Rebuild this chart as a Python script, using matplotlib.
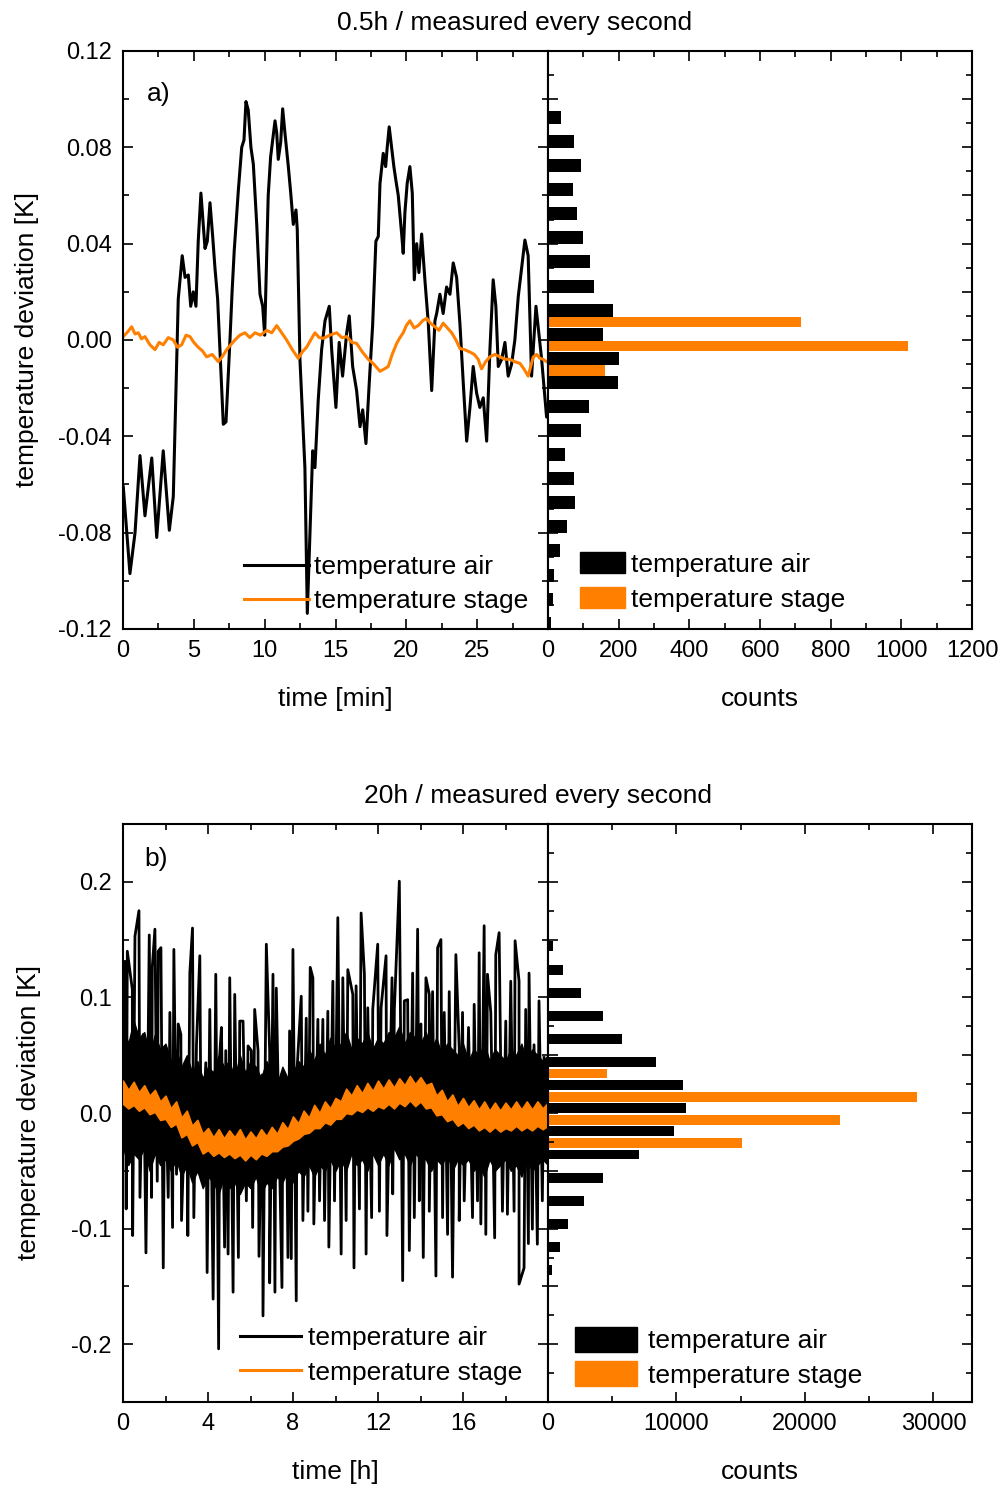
import numpy as np
import matplotlib
matplotlib.use("Agg")
import matplotlib.pyplot as plt
from matplotlib.ticker import MultipleLocator, FormatStrFormatter
from matplotlib.patches import Patch
from matplotlib.lines import Line2D

plt.rcParams['font.family'] = ['Liberation Sans', 'DejaVu Sans']
plt.rcParams['axes.unicode_minus'] = False

ORANGE = '#ff8000'

# ---- panel a: 0.5 h, time in minutes ----
air_a_t = [0.02, 0.49, 0.85, 1.20, 1.55, 2.03, 2.38, 2.84, 3.27, 3.55, 3.90, 4.18, 4.38,
           4.61, 4.78, 4.96, 5.15, 5.31, 5.50, 5.79, 5.95, 6.14, 6.33, 6.49, 6.68, 7.08,
           7.27, 7.55, 7.70, 7.85, 8.14, 8.38, 8.54, 8.68, 8.84, 9.03, 9.20, 9.44, 9.67,
           9.86, 10.0, 10.25, 10.42, 10.73, 10.85, 10.96, 11.13, 11.27, 11.43, 11.67,
           11.84, 12.02, 12.21, 12.30, 12.49, 12.84, 13.01, 13.20, 13.39, 13.55, 13.78,
           14.02, 14.26, 14.56, 14.73, 15.03, 15.26, 15.50, 15.79, 15.97, 16.21, 16.49,
           16.73, 16.92, 17.15, 17.38, 17.62, 17.85, 18.02, 18.14, 18.37, 18.54, 18.65,
           18.79, 18.96, 19.12, 19.27, 19.43, 19.67, 19.78, 19.90, 20.06, 20.25, 20.42,
           20.56, 20.73, 20.89, 21.08, 21.31, 21.55, 21.79, 22.02, 22.14, 22.37, 22.60,
           22.84, 23.08, 23.31, 23.55, 23.78, 24.02, 24.26, 24.49, 24.72, 24.96, 25.19,
           25.43, 25.67, 25.90, 26.13, 26.32, 26.49, 26.73, 26.96, 27.19, 27.43, 27.66,
           27.90, 28.14, 28.37, 28.60, 28.84, 29.15, 29.55, 29.90, 30.0]
air_a_v = [-0.061, -0.097, -0.080, -0.048, -0.073, -0.049, -0.082, -0.046, -0.079, -0.065,
           0.017, 0.035, 0.026, 0.027, 0.014, 0.020, 0.014, 0.041, 0.061, 0.038, 0.041,
           0.057, 0.043, 0.030, 0.017, -0.035, -0.034, 0.000, 0.020, 0.037, 0.062, 0.080,
           0.083, 0.099, 0.0955, 0.080, 0.073, 0.048, 0.019, 0.014, 0.002, 0.060, 0.076,
           0.091, 0.086, 0.075, 0.082, 0.096, 0.086, 0.072, 0.061, 0.048, 0.054, 0.046,
           -0.008, -0.053, -0.1135, -0.080, -0.046, -0.053, -0.025, -0.004, 0.008, 0.014,
           -0.004, -0.028, -0.001, -0.015, 0.003, 0.010, -0.011, -0.021, -0.036, -0.029,
           -0.043, -0.018, 0.006, 0.041, 0.043, 0.065, 0.0775, 0.072, 0.080, 0.0885,
           0.080, 0.072, 0.066, 0.060, 0.044, 0.036, 0.053, 0.065, 0.072, 0.061, 0.025,
           0.040, 0.028, 0.044, 0.025, 0.007, -0.021, 0.008, 0.011, 0.019, 0.011, 0.022,
           0.019, 0.032, 0.026, 0.007, -0.018, -0.042, -0.028, -0.011, -0.022, -0.028,
           -0.024, -0.042, -0.004, 0.025, 0.014, -0.011, -0.008, -0.001, -0.015, -0.010,
           0.000, 0.018, 0.030, 0.0415, 0.035, -0.015, 0.014, -0.008, -0.032, -0.029]

stage_a_t = [0.02, 0.35, 0.61, 0.85, 1.08, 1.30, 1.55, 1.90, 2.26, 2.55, 2.84, 3.20, 3.55,
             3.85, 4.14, 4.45, 4.73, 5.00, 5.31, 5.60, 5.91, 6.30, 6.73, 7.00, 7.32, 7.60,
             7.90, 8.25, 8.61, 8.95, 9.32, 9.70, 10.14, 10.50, 10.85, 11.20, 11.55, 11.95,
             12.37, 12.65, 12.96, 13.25, 13.55, 13.85, 14.14, 14.60, 15.08, 15.45, 15.79,
             16.15, 16.49, 16.90, 17.31, 17.70, 18.14, 18.45, 18.72, 19.00, 19.32, 19.55,
             19.78, 20.00, 20.25, 20.55, 20.84, 21.15, 21.43, 21.70, 22.02, 22.30, 22.60,
             22.90, 23.20, 23.50, 23.78, 24.10, 24.49, 24.80, 25.07, 25.31, 25.60, 25.90,
             26.25, 26.61, 26.95, 27.31, 27.65, 28.02, 28.30, 28.60, 28.96, 29.20, 29.43,
             29.65, 29.90]
stage_a_v = [0.0014, 0.0035, 0.0055, 0.0025, 0.003, 0.0005, 0.0014, -0.002, -0.004, -0.001,
             -0.002, 0.001, 0.000, -0.003, -0.002, 0.002, 0.0014, -0.001, -0.003, -0.0045,
             -0.007, -0.006, -0.009, -0.007, -0.004, -0.002, 0.000, 0.002, 0.003, 0.001,
             0.003, 0.002, 0.004, 0.003, 0.006, 0.003, 0.000, -0.004, -0.0076, -0.005,
             -0.003, 0.000, 0.003, 0.001, 0.0007, 0.002, 0.003, 0.001, 0.0014, -0.001,
             -0.0014, -0.005, -0.008, -0.010, -0.013, -0.012, -0.011, -0.006, -0.0014,
             0.001, 0.003, 0.006, 0.008, 0.005, 0.006, 0.008, 0.009, 0.007, 0.0055, 0.004,
             0.007, 0.005, 0.003, 0.000, -0.0035, -0.004, -0.005, -0.006, -0.008, -0.012,
             -0.009, -0.007, -0.006, -0.007, -0.008, -0.008, -0.009, -0.0097, -0.012,
             -0.015, -0.007, -0.006, -0.0076, -0.008, -0.009]

# histogram a (bin width 0.01 K)
hist_a_bins = [0.09, 0.08, 0.07, 0.06, 0.05, 0.04, 0.03, 0.02, 0.01, 0.00, -0.01, -0.02,
               -0.03, -0.04, -0.05, -0.06, -0.07, -0.08, -0.09, -0.10, -0.11, -0.12]
hist_a_air = [36, 74, 92, 72, 81, 98, 118, 130, 185, 156, 202, 199, 115, 94, 47, 74, 77,
              53, 33, 17, 13, 8]
hist_a_stage_bins = [0.01, 0.00, -0.01]
hist_a_stage = [715, 1018, 160]

# ---- panel b: 20 h, time in hours ----
air_b_top_t = [0.094, 0.203, 0.438, 0.563, 0.751, 0.955, 1.236, 1.377, 1.502, 1.659, 1.784,
               1.972, 2.206, 2.394, 2.598, 2.723, 2.989, 3.145, 3.271, 3.458, 3.615, 3.897,
               4.084, 4.366, 4.554, 4.632, 4.836, 5.023, 5.258, 5.493, 5.649, 5.884, 6.040,
               6.197, 6.354, 6.557, 6.745, 6.901, 7.058, 7.214, 7.528, 7.684, 7.840, 7.997,
               8.185, 8.388, 8.623, 8.810, 8.936, 9.171, 9.405, 9.640, 9.875, 10.109, 10.344,
               10.579, 10.814, 10.970, 11.205, 11.361, 11.518, 11.753, 11.987, 12.144,
               12.379, 12.660, 12.770, 13.004, 13.239, 13.396, 13.630, 13.865, 14.022,
               14.256, 14.413, 14.569, 14.804, 14.961, 15.117, 15.352, 15.665, 15.822,
               15.978, 16.260, 16.526, 16.761, 16.995, 17.152, 17.308, 17.543, 17.700,
               18.013, 18.247, 18.451, 18.638, 18.951, 19.108, 19.343, 19.577, 19.812]
air_b_top_v = [0.131, 0.140, 0.107, 0.153, 0.175, 0.068, 0.154, 0.126, 0.159, 0.140, 0.143,
               0.048, 0.087, 0.1415, 0.077, 0.068, 0.045, 0.121, 0.160, 0.059, 0.136, 0.0435,
               0.0896, 0.120, 0.051, 0.074, 0.054, 0.117, 0.1026, 0.0795, 0.0795, 0.058,
               0.054, 0.0896, 0.054, 0.033, 0.146, 0.054, 0.120, 0.108, 0.036, 0.022, 0.071,
               0.1415, 0.036, 0.101, 0.082, 0.126, 0.117, 0.081, 0.081, 0.088, 0.114, 0.169,
               0.117, 0.124, 0.1026, 0.110, 0.173, 0.120, 0.091, 0.0896, 0.146, 0.091,
               0.136, 0.117, 0.0896, 0.2005, 0.097, 0.098, 0.121, 0.159, 0.077, 0.117,
               0.1026, 0.105, 0.143, 0.150, 0.087, 0.105, 0.137, 0.056, 0.087, 0.074, 0.094,
               0.1386, 0.162, 0.120, 0.087, 0.137, 0.156, 0.0795, 0.114, 0.149, 0.114,
               0.0896, 0.121, 0.059, 0.097, 0.048]
air_b_bot_t = [0.150, 0.454, 0.798, 1.080, 1.346, 1.612, 1.894, 2.128, 2.332, 2.519, 2.754,
               3.050, 3.333, 3.680, 3.959, 4.241, 4.500, 4.780, 4.945, 5.180, 5.430, 5.806,
               6.100, 6.400, 6.588, 6.901, 7.150, 7.480, 7.762, 7.919, 8.153, 8.466, 8.701,
               8.980, 9.249, 9.484, 9.687, 9.953, 10.266, 10.501, 10.870, 11.127, 11.440,
               11.700, 12.066, 12.420, 12.692, 13.161, 13.474, 13.709, 13.944, 14.131,
               14.413, 14.726, 15.039, 15.274, 15.508, 15.822, 16.057, 16.448, 16.683,
               16.839, 17.074, 17.490, 17.856, 18.091, 18.404, 18.638, 18.873, 19.077,
               19.264, 19.499, 19.734]
air_b_bot_v = [-0.083, -0.106, -0.073, -0.121, -0.073, -0.059, -0.134, -0.073, -0.099,
               -0.053, -0.093, -0.106, -0.0905, -0.050, -0.138, -0.161, -0.204, -0.116,
               -0.122, -0.155, -0.125, -0.076, -0.099, -0.124, -0.1755, -0.147, -0.155,
               -0.151, -0.125, -0.126, -0.1625, -0.093, -0.085, -0.096, -0.076, -0.093,
               -0.116, -0.076, -0.122, -0.093, -0.134, -0.083, -0.122, -0.0905, -0.085,
               -0.106, -0.070, -0.145, -0.119, -0.0905, -0.076, -0.125, -0.085, -0.141,
               -0.0905, -0.105, -0.142, -0.093, -0.076, -0.0905, -0.076, -0.096, -0.105,
               -0.108, -0.085, -0.0876, -0.085, -0.148, -0.134, -0.113, -0.1005, -0.1135,
               -0.076]

# dense parts of both signals, read as upper / lower envelopes every 0.25 h
env_t = np.arange(0, 20.01, 0.25)
air_b_hi = [0.075, 0.060, 0.080, 0.065, 0.070, 0.050, 0.068, 0.055, 0.060,
            0.045, 0.055, 0.040, 0.050, 0.035, 0.045, 0.030, 0.040,
            0.035, 0.050, 0.040, 0.045, 0.030, 0.050, 0.035, 0.045,
            0.040, 0.030, 0.045, 0.035, 0.025, 0.040, 0.030, 0.035,
            0.045, 0.040, 0.055, 0.045, 0.060, 0.050, 0.065, 0.055,
            0.060, 0.070, 0.055, 0.065, 0.060, 0.070, 0.055, 0.065,
            0.060, 0.070, 0.065, 0.075, 0.060, 0.070, 0.065, 0.060,
            0.070, 0.055, 0.065, 0.050, 0.060, 0.055, 0.050, 0.060,
            0.045, 0.055, 0.050, 0.060, 0.045, 0.055, 0.050, 0.045,
            0.055, 0.050, 0.060, 0.045, 0.055, 0.050, 0.045, 0.050]
air_b_lo = [-0.030, -0.045, -0.035, -0.040, -0.030, -0.050, -0.035, -0.045, -0.040,
            -0.050, -0.040, -0.055, -0.045, -0.060, -0.050, -0.065, -0.055,
            -0.060, -0.070, -0.055, -0.065, -0.060, -0.070, -0.060, -0.065,
            -0.055, -0.070, -0.060, -0.065, -0.055, -0.060, -0.050, -0.060,
            -0.050, -0.055, -0.045, -0.055, -0.045, -0.050, -0.040, -0.050,
            -0.040, -0.050, -0.035, -0.045, -0.040, -0.050, -0.035, -0.045,
            -0.035, -0.045, -0.030, -0.040, -0.035, -0.045, -0.035, -0.040,
            -0.040, -0.050, -0.040, -0.045, -0.035, -0.050, -0.040, -0.045,
            -0.040, -0.050, -0.045, -0.055, -0.040, -0.050, -0.045, -0.040,
            -0.050, -0.045, -0.055, -0.040, -0.050, -0.045, -0.040, -0.045]
stage_b_hi = [0.028, 0.020, 0.027, 0.018, 0.024, 0.015, 0.020, 0.010, 0.015,
              0.004, 0.010, -0.004, 0.002, -0.011, -0.006, -0.018, -0.013,
              -0.021, -0.014, -0.022, -0.015, -0.021, -0.014, -0.023, -0.016,
              -0.022, -0.014, -0.020, -0.012, -0.018, -0.008, -0.014, -0.003,
              -0.009, 0.002, -0.004, 0.007, 0.000, 0.010, 0.004, 0.013,
              0.010, 0.021, 0.015, 0.024, 0.017, 0.026, 0.019, 0.028,
              0.021, 0.029, 0.022, 0.030, 0.024, 0.032, 0.025, 0.031,
              0.024, 0.026, 0.015, 0.020, 0.010, 0.016, 0.006, 0.013,
              0.005, 0.011, 0.003, 0.010, 0.002, 0.009, 0.002, 0.009,
              0.003, 0.010, 0.003, 0.010, 0.003, 0.010, 0.004, 0.009]
stage_b_lo = [0.008, 0.004, 0.007, 0.002, 0.005, -0.001, 0.001, -0.006, -0.005,
              -0.012, -0.009, -0.021, -0.018, -0.028, -0.025, -0.035, -0.032,
              -0.037, -0.034, -0.038, -0.035, -0.039, -0.036, -0.041, -0.036,
              -0.040, -0.035, -0.037, -0.033, -0.033, -0.029, -0.028, -0.024,
              -0.022, -0.018, -0.017, -0.013, -0.013, -0.008, -0.010, -0.005,
              -0.005, 0.000, -0.001, 0.003, 0.001, 0.005, 0.002, 0.006,
              0.004, 0.008, 0.004, 0.009, 0.006, 0.011, 0.006, 0.010,
              0.004, 0.005, -0.002, -0.001, -0.007, -0.005, -0.011, -0.008,
              -0.013, -0.010, -0.015, -0.012, -0.016, -0.012, -0.016, -0.013,
              -0.015, -0.011, -0.015, -0.012, -0.015, -0.011, -0.014, -0.011]

# histogram b (bin width 0.02 K)
hist_b_bins = [0.14, 0.12, 0.10, 0.08, 0.06, 0.04, 0.02, 0.00, -0.02, -0.04, -0.06, -0.08,
               -0.10, -0.12, -0.14]
hist_b_air = [415, 1190, 2540, 4250, 5750, 8370, 10490, 10725, 9845, 7070, 4250, 2800,
              1580, 930, 285]
hist_b_stage_bins = [0.04, 0.02, 0.00, -0.02]
hist_b_stage = [4610, 28700, 22750, 15080]

W, H = 1005, 1487
fig = plt.figure(figsize=(W / 100, H / 100), dpi=100)

def box(x0, y0, x1, y1):
    return [x0 / W, 1 - y1 / H, (x1 - x0) / W, (y1 - y0) / H]

FS = 19
TFS = 17

def style(ax):
    for s in ax.spines.values():
        s.set_linewidth(1.5)
    ax.tick_params(which='both', direction='in', top=True, right=True, left=True,
                   bottom=True, width=1.2, labelsize=TFS, pad=8)
    ax.tick_params(which='major', length=7)
    ax.tick_params(which='minor', length=4)

# panel a
ax1 = fig.add_axes(box(123, 51, 548, 629))
ax1.plot(air_a_t, air_a_v, color='black', lw=2.2, label='temperature air')
ax1.plot(stage_a_t, stage_a_v, color=ORANGE, lw=2.2, label='temperature stage')
ax1.set_xlim(0, 30)
ax1.set_ylim(-0.12, 0.12)
ax1.set_xticks([0, 5, 10, 15, 20, 25])
ax1.xaxis.set_minor_locator(MultipleLocator(2.5))
ax1.yaxis.set_major_locator(MultipleLocator(0.04))
ax1.yaxis.set_minor_locator(MultipleLocator(0.02))
ax1.yaxis.set_major_formatter(FormatStrFormatter('%.2f'))
style(ax1)
ax1.set_xlabel('time [min]', fontsize=FS, labelpad=18)
ax1.set_ylabel('temperature deviation [K]', fontsize=FS, labelpad=14)
ax1.text(0.055, 0.925, 'a)', transform=ax1.transAxes, fontsize=FS, va='center')
ax1.legend(loc='lower left', bbox_to_anchor=(0.285, 0.027), frameon=False, fontsize=FS,
           handlelength=2.45, handletextpad=0.2, labelspacing=0.4, borderpad=0,
           borderaxespad=0)

h1 = fig.add_axes(box(548, 51, 972, 629))
h1.barh(np.array(hist_a_bins) + 0.0024, hist_a_air, height=0.0054, color='black')
h1.barh(np.array(hist_a_stage_bins) - 0.0026, hist_a_stage, height=0.0043, color=ORANGE)
h1.set_xlim(0, 1200)
h1.set_ylim(-0.12, 0.12)
h1.xaxis.set_major_locator(MultipleLocator(200))
h1.xaxis.set_minor_locator(MultipleLocator(100))
h1.yaxis.set_major_locator(MultipleLocator(0.02))
h1.yaxis.set_minor_locator(MultipleLocator(0.01))
style(h1)
h1.tick_params(labelleft=False)
h1.set_xlabel('counts', fontsize=FS, labelpad=18)
h1.legend(handles=[Patch(color='black', label='temperature air'),
                   Patch(color=ORANGE, label='temperature stage')],
          loc='lower left', bbox_to_anchor=(0.075, 0.03), frameon=False, fontsize=FS,
          handlelength=1.7, handleheight=0.85, handletextpad=0.25, labelspacing=0.38,
          borderpad=0, borderaxespad=0)

# panel b
order = np.argsort(np.r_[air_b_top_t, air_b_bot_t], kind='stable')
air_b_t = np.r_[air_b_top_t, air_b_bot_t][order]
air_b_v = np.r_[air_b_top_v, air_b_bot_v][order]

ax2 = fig.add_axes(box(123, 824, 548, 1402))
ax2.fill_between(env_t, air_b_lo, air_b_hi, facecolor='black', edgecolor='black', lw=1,
                 zorder=1)
ax2.plot(air_b_t, air_b_v, color='black', lw=2.0, zorder=2)
ax2.fill_between(env_t, stage_b_lo, stage_b_hi, facecolor=ORANGE, edgecolor=ORANGE,
                 lw=1.2, zorder=3)
ax2.set_xlim(0, 20)
ax2.set_ylim(-0.25, 0.25)
ax2.set_xticks([0, 4, 8, 12, 16])
ax2.xaxis.set_minor_locator(MultipleLocator(2))
ax2.yaxis.set_major_locator(MultipleLocator(0.1))
ax2.yaxis.set_minor_locator(MultipleLocator(0.05))
ax2.yaxis.set_major_formatter(FormatStrFormatter('%.1f'))
style(ax2)
ax2.set_xlabel('time [h]', fontsize=FS, labelpad=18)
ax2.set_ylabel('temperature deviation [K]', fontsize=FS, labelpad=22)
ax2.text(0.05, 0.94, 'b)', transform=ax2.transAxes, fontsize=FS, va='center')
ax2.legend(handles=[Line2D([], [], color='black', lw=2.2, label='temperature air'),
                    Line2D([], [], color=ORANGE, lw=2.2, label='temperature stage')],
           loc='lower left', bbox_to_anchor=(0.275, 0.03), frameon=False, fontsize=FS,
           handlelength=2.3, handletextpad=0.27, labelspacing=0.4, borderpad=0,
           borderaxespad=0)

h2 = fig.add_axes(box(548, 824, 972, 1402))
h2.barh(np.array(hist_b_bins) + 0.0041, hist_b_air, height=0.0086, color='black')
h2.barh(np.array(hist_b_stage_bins) - 0.006, hist_b_stage, height=0.0083, color=ORANGE)
h2.set_xlim(0, 33000)
h2.set_ylim(-0.25, 0.25)
h2.xaxis.set_major_locator(MultipleLocator(10000))
h2.xaxis.set_minor_locator(MultipleLocator(5000))
h2.yaxis.set_major_locator(MultipleLocator(0.05))
h2.yaxis.set_minor_locator(MultipleLocator(0.025))
style(h2)
h2.tick_params(labelleft=False)
h2.set_xlabel('counts', fontsize=FS, labelpad=18)
h2.legend(handles=[Patch(color='black', label='temperature air'),
                   Patch(color=ORANGE, label='temperature stage')],
          loc='lower left', bbox_to_anchor=(0.064, 0.025), frameon=False, fontsize=FS,
          handlelength=2.35, handleheight=1.05, handletextpad=0.4, labelspacing=0.3,
          borderpad=0, borderaxespad=0)

fig.text(515 / W, 1 - 23 / H, '0.5h / measured every second', fontsize=FS,
         ha='center', va='center')
fig.text(538 / W, 1 - 796 / H, '20h / measured every second', fontsize=FS,
         ha='center', va='center')

fig.savefig('out.png', dpi=100)
